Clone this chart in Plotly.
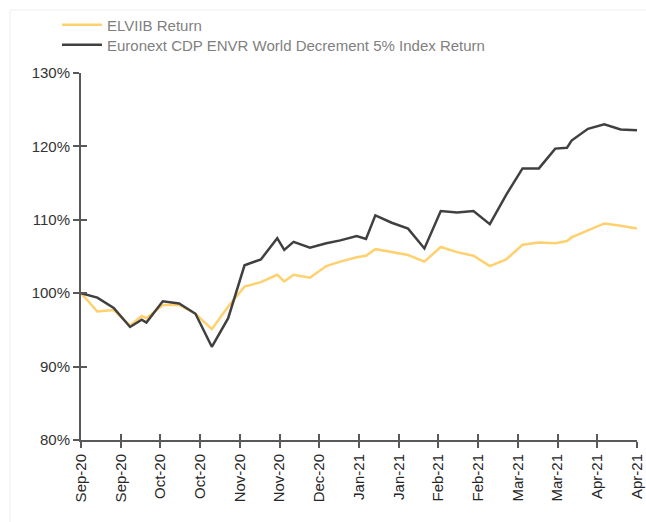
import plotly.graph_objects as go
from datetime import date, timedelta

dates = ["2020-09-04", "2020-09-11", "2020-09-18", "2020-09-25", "2020-09-30", "2020-10-02",
         "2020-10-09", "2020-10-16", "2020-10-23", "2020-10-30", "2020-11-06", "2020-11-13",
         "2020-11-20", "2020-11-27", "2020-11-30", "2020-12-04", "2020-12-11", "2020-12-18",
         "2020-12-24", "2020-12-31", "2021-01-04", "2021-01-08", "2021-01-15", "2021-01-22",
         "2021-01-29", "2021-02-05", "2021-02-12", "2021-02-19", "2021-02-26", "2021-03-05",
         "2021-03-12", "2021-03-19", "2021-03-26", "2021-03-31", "2021-04-02", "2021-04-09",
         "2021-04-16", "2021-04-23", "2021-04-30"]

elviib = [100.0, 97.5, 97.7, 95.6, 96.9, 96.6, 98.4, 98.4, 97.2, 95.1, 98.2, 100.9,
          101.5, 102.5, 101.6, 102.5, 102.1, 103.7, 104.3, 104.9, 105.1, 106.0, 105.6, 105.2,
          104.3, 106.3, 105.6, 105.1, 103.7, 104.6, 106.6, 106.9, 106.8, 107.1, 107.6, 108.6,
          109.5, 109.2, 108.8]

index_ret = [100.0, 99.4, 98.0, 95.4, 96.4, 96.0, 98.9, 98.6, 97.2, 92.7, 96.6, 103.8,
             104.6, 107.5, 105.9, 107.0, 106.2, 106.8, 107.2, 107.8, 107.4, 110.6, 109.6, 108.8,
             106.1, 111.2, 111.0, 111.2, 109.4, 113.4, 117.0, 117.0, 119.7, 119.8, 120.8, 122.4,
             123.0, 122.3, 122.2]

series_names = ["ELVIIB Return", "Euronext CDP ENVR World Decrement 5% Index Return"]
y_ticks = [80, 90, 100, 110, 120, 130]
y_ticktext = ["80%", "90%", "100%", "110%", "120%", "130%"]

# x-axis ticks every 17 days from the first date (as in the source chart)
start = date(2020, 9, 4)
x_ticks = [(start + timedelta(days=17 * k)).isoformat() for k in range(15)]
x_ticktext = [(start + timedelta(days=17 * k)).strftime("%b-%y") for k in range(15)]

FONT = "Liberation Sans, Arial, sans-serif"
AXIS_COLOR = "#595959"
W, H = 646, 522

fig = go.Figure()
fig.add_trace(go.Scatter(x=dates, y=elviib, mode="lines", name=series_names[0],
                         line=dict(color="#FFD06E", width=2.5), legend="legend"))
fig.add_trace(go.Scatter(x=dates, y=index_ret, mode="lines", name=series_names[1],
                         line=dict(color="#404040", width=2.5), legend="legend2"))

x_range = [dates[0], dates[-1]]
y_range = [80, 130]

legend_common = dict(xref="container", yref="container", xanchor="left", yanchor="middle",
                     font=dict(size=15, color="#7F7F7F", family=FONT),
                     bgcolor="rgba(0,0,0,0)", itemwidth=40)

fig.update_layout(
    width=W, height=H,
    margin=dict(l=81, r=9, t=73, b=82, autoexpand=False),
    paper_bgcolor="white", plot_bgcolor="white",
    font=dict(family=FONT, size=15, color="#333333"),
    showlegend=True,
    legend=dict(x=57 / W, y=1 - 25 / H, **legend_common),
    legend2=dict(x=57 / W, y=1 - 45 / H, **legend_common),
    xaxis=dict(type="date", range=x_range, tickvals=x_ticks, ticktext=x_ticktext,
               tickangle=-90, showgrid=False, zeroline=False, automargin=False,
               showline=True, linecolor=AXIS_COLOR, linewidth=2,
               ticks="outside", ticklen=6, tickwidth=1.5, tickcolor=AXIS_COLOR,
               tickfont=dict(size=15, color="#262626")),
    yaxis=dict(range=y_range, tickvals=y_ticks, ticktext=y_ticktext, showgrid=False,
               zeroline=False, showline=True, linecolor=AXIS_COLOR, linewidth=2,
               automargin=False,
               ticks="outside", ticklen=6, tickwidth=1.5, tickcolor=AXIS_COLOR,
               tickfont=dict(size=15, color="#333333")),
    xaxis2=dict(type="date", range=x_range, tickvals=x_ticks, overlaying="x",
                showticklabels=False, showgrid=False, zeroline=False, showline=False,
                ticks="inside", ticklen=6, tickwidth=1.5, tickcolor=AXIS_COLOR,
                anchor="y", side="bottom", automargin=False),
    yaxis2=dict(range=y_range, tickvals=y_ticks, overlaying="y", showticklabels=False,
                showgrid=False, zeroline=False, showline=False,
                ticks="inside", ticklen=6, tickwidth=1.5, tickcolor=AXIS_COLOR,
                anchor="x", side="left", automargin=False),
    shapes=[dict(type="rect", xref="paper", yref="paper",
                 x0=(10 - 81) / 556, x1=(700 - 81) / 556,
                 y0=(440 - 560) / 367, y1=(440 - 10) / 367,
                 line=dict(color="#EEEEEE", width=1), fillcolor="rgba(0,0,0,0)",
                 layer="below")],
)

# invisible trace to activate the secondary (crossing-tick) axes
fig.add_trace(go.Scatter(x=[dates[0]], y=[None], xaxis="x2", yaxis="y2",
                         showlegend=False, hoverinfo="skip", mode="lines"))

fig.write_html("out.html", config={"displayModeBar": False},
               post_script="document.body.style.margin='0';document.body.style.overflow='hidden';")
